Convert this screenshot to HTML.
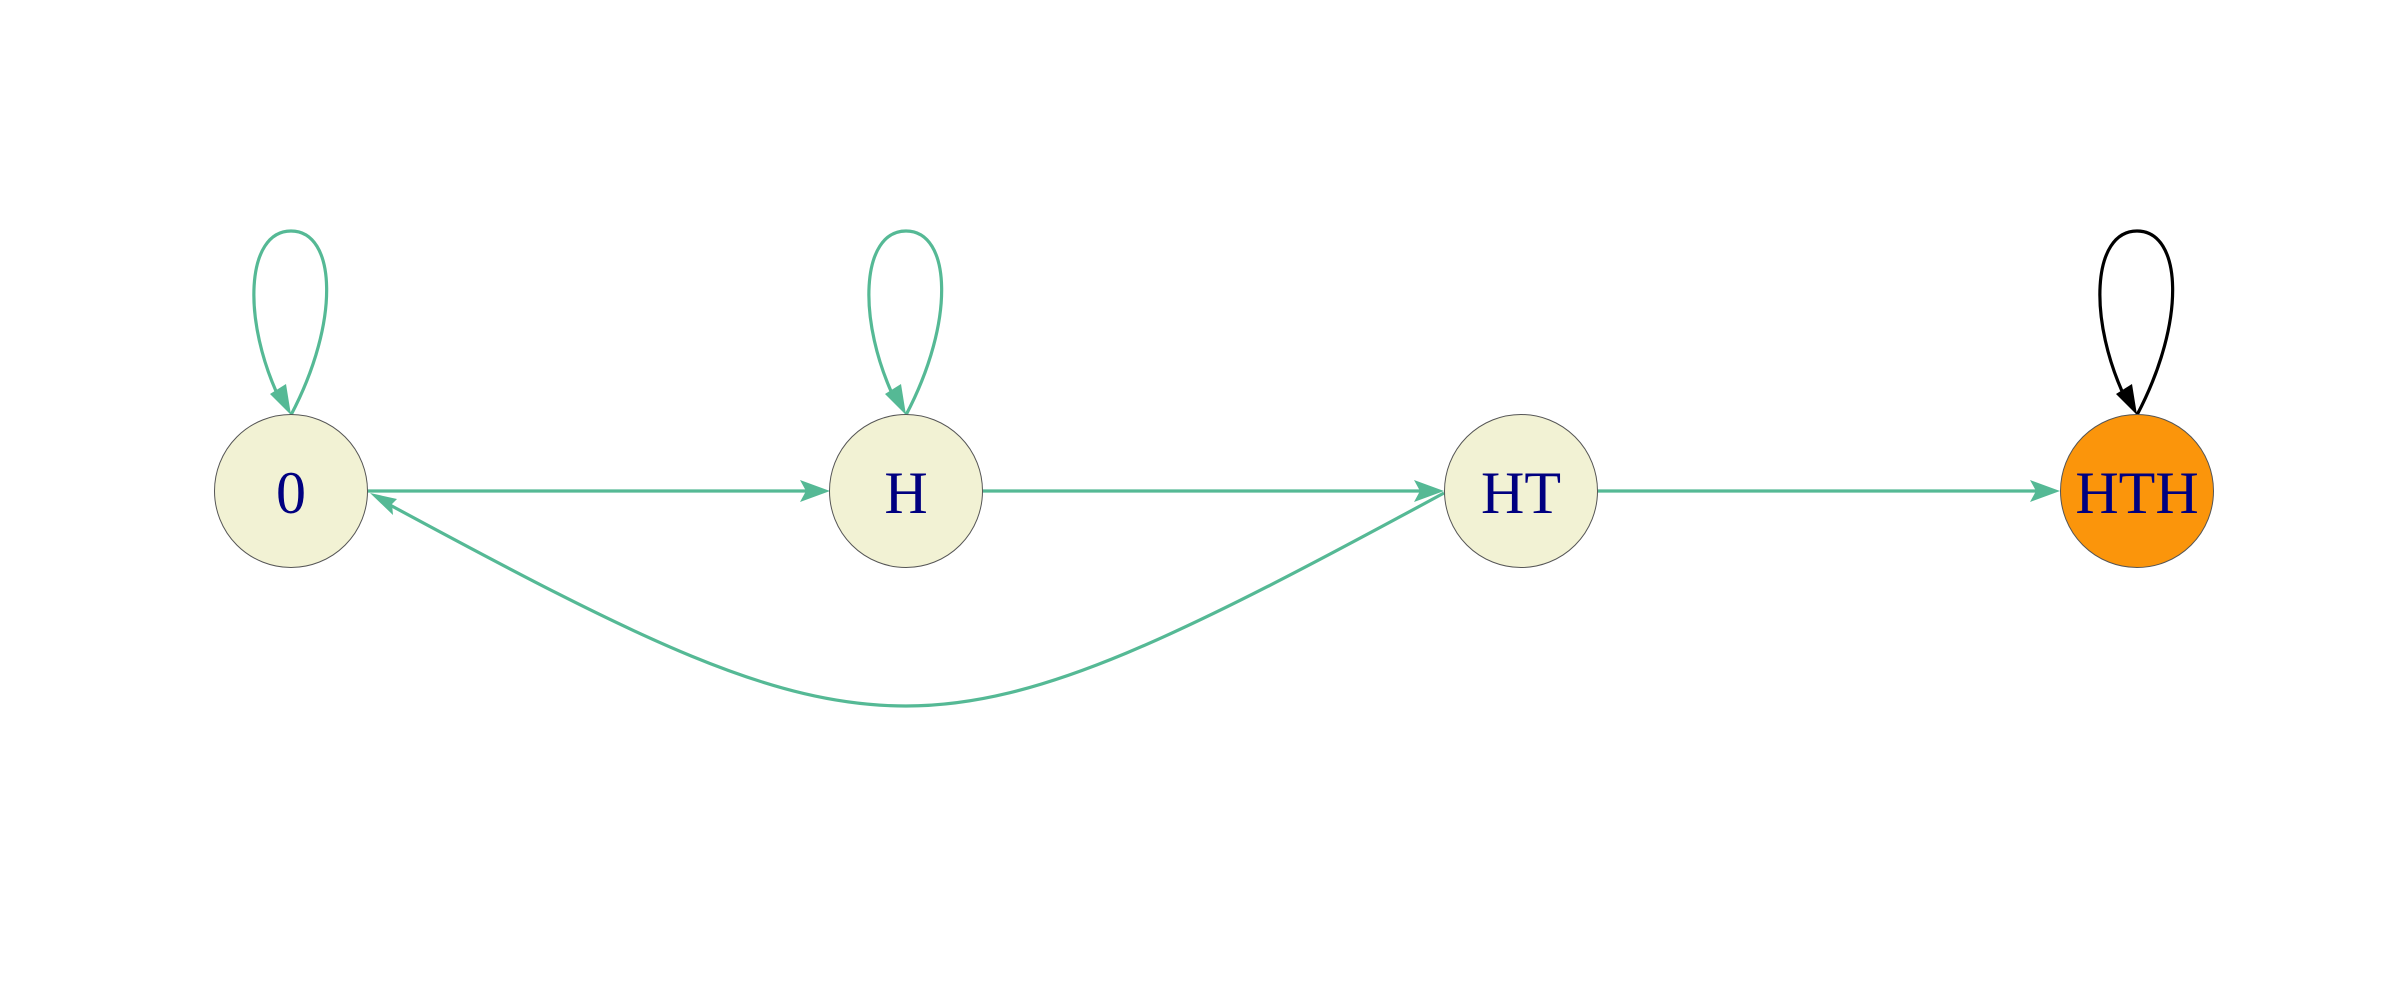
<!DOCTYPE html>
<html><head><meta charset="utf-8"><style>
html,body{margin:0;padding:0;background:#fff;}
svg{display:block;}
text{font-family:"Liberation Serif",serif;font-size:60px;fill:#000080;text-anchor:middle;}
</style></head><body>
<svg width="2400" height="1000" viewBox="0 0 2400 1000" xmlns="http://www.w3.org/2000/svg">
<g fill="none" stroke="#55b995" stroke-width="3.2">
<path d="M291 415 C341 320 336 231 291 231 C246 231 241 320 281 402"/>
<path d="M906 415 C956 320 951 231 906 231 C861 231 856 320 896 402"/>
<line x1="368" y1="491" x2="812" y2="491"/>
<line x1="983" y1="491" x2="1428" y2="491"/>
<line x1="1598" y1="491" x2="2044" y2="491"/>
<path d="M1444 493 C1180 636 1040 706 906 706 C772 706 640 640 390 505"/>
</g>
<path d="M2137 415 C2187 320 2182 231 2137 231 C2092 231 2087 320 2127 402" fill="none" stroke="#000" stroke-width="3.2"/>
<g fill="#55b995">
<path d="M830 491 L800 480 L806 491 L800 502 Z"/>
<path d="M1444 491 L1414 480 L1420 491 L1414 502 Z"/>
<path d="M2060 491 L2030 480 L2036 491 L2030 502 Z"/>
<path d="M370 493 L397 499 L392 504 L393 515 Z"/>
<path d="M291 415 L270 394 L286 384 Z"/>
<path d="M906 415 L885 394 L901 384 Z"/>
</g>
<path d="M2137 415 L2116 394 L2132 384 Z" fill="#000"/>
<g stroke="#555" stroke-width="1">
<circle cx="291" cy="491" r="76.5" fill="#f2f2d4"/>
<circle cx="906" cy="491" r="76.5" fill="#f2f2d4"/>
<circle cx="1521" cy="491" r="76.5" fill="#f2f2d4"/>
<circle cx="2137" cy="491" r="76.5" fill="#fb950b"/>
</g>
<text x="291" y="513">0</text>
<text x="906" y="513">H</text>
<text x="1521" y="513">HT</text>
<text x="2137" y="513">HTH</text>
</svg>
</body></html>
